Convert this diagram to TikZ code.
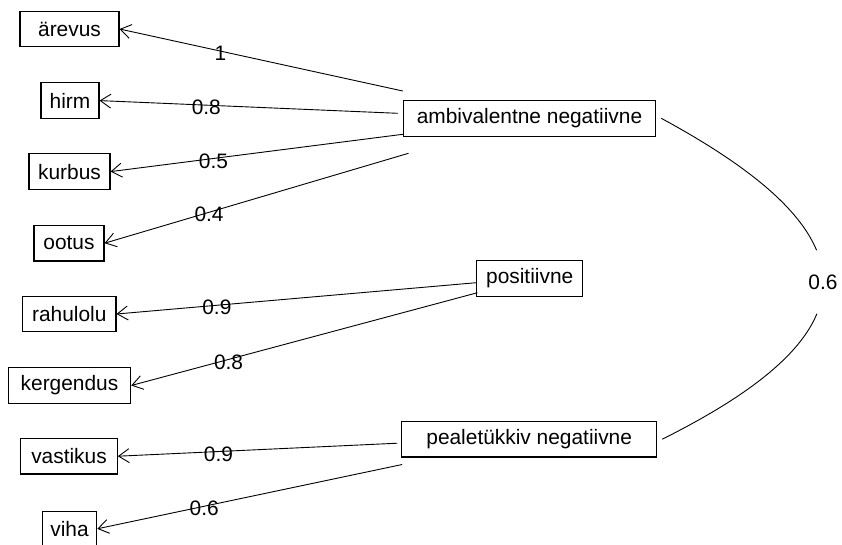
\documentclass[tikz,border=0pt]{standalone}
\usepackage{fontspec}
\setmainfont{Liberation Sans}
\usetikzlibrary{arrows.meta,calc}
\begin{document}
\begin{tikzpicture}[x=1pt,y=-1pt,
  box/.style={draw, line width=1.1pt, minimum height=35.5pt, inner sep=0pt,
    font=\fontsize{20.9}{25}\selectfont},
  load/.style={line width=0.9pt,
    -{Straight Barb[length=10.5pt,width=14pt,line width=0.9pt]}},
  wt/.style={font=\fontsize{20.9}{25}\selectfont, inner sep=0pt, yshift=-2.5pt},
  cov/.style={line width=0.9pt},
]
\useasboundingbox (0,0) rectangle (842,544);

% observed indicators
\node[box, minimum width=99pt]   (arevus)    at (69.5,29)    {ärevus};
\node[box, minimum width=58pt]   (hirm)      at (70,100.6)   {hirm};
\node[box, minimum width=81pt]   (kurbus)    at (69.5,171.6) {kurbus};
\node[box, minimum width=70pt]   (ootus)     at (69,243.2)   {ootus};
\node[box, minimum width=93.3pt] (rahulolu)  at (69.3,314)   {rahulolu};
\node[box, minimum width=122.4pt](kergendus) at (69.5,385.5) {kergendus};
\node[box, minimum width=96.6pt] (vastikus)  at (69,456.2)   {vastikus};
\node[box, minimum width=54.4pt] (viha)      at (69.5,528.8) {viha};

% latent factors
\node[box, minimum width=252.4pt] (amb)  at (529.5,118.3) {ambivalentne negatiivne};
\node[box, minimum width=106pt]   (pos)  at (529.7,278.5) {positiivne};
\node[box, minimum width=255pt]   (peal) at (529.2,439.2) {pealetükkiv negatiivne};

% loadings
\draw[load] ($(amb.west)+(0,-27.3)$) -- node[wt,pos=.644] (w1) {1} (arevus.east);
\draw[load] ($(amb.west)+(-5,-5)$)   -- node[wt,pos=.642] (w2) {0.8} (hirm.east);
\draw[load] ($(amb.west)+(0,16)$)    -- node[wt,pos=.648] (w3) {0.5} (kurbus.east);
\draw[load] ($(amb.west)+(5.7,35)$)  -- node[wt,pos=.656] (w4) {0.4} (ootus.east);
\draw[load] ($(pos.west)+(0,4.2)$)   -- node[wt,pos=.721] (w5) {0.9} (rahulolu.east);
\draw[load] ($(pos.west)+(1.3,14.2)$)-- node[wt,pos=.719] (w6) {0.8} (kergendus.east);
\draw[load] ($(peal.west)+(-3.7,4)$) -- node[wt,pos=.640] (w7) {0.9} (vastikus.east);
\draw[load] ($(peal.west)+(1,25.3)$) -- node[wt,pos=.649] (w8) {0.6} (viha.east);

% factor covariance
\node[font=\fontsize{20.9}{25}\selectfont, inner sep=0pt, minimum height=63pt]
  (c1) at (823,282) {0.6};
\draw[cov] ($(amb.east)+(5,0)$) .. controls +(86.4,46.8) and +(-17.5,-42.1)
  .. ($(c1.north)+(-6.4,0)$);
\draw[cov] ($(c1.south)+(-6.1,0)$) .. controls +(-17.1,41.4) and +(86.4,-43.2)
  .. ($(peal.east)+(5,0)$);
\end{tikzpicture}
\end{document}
